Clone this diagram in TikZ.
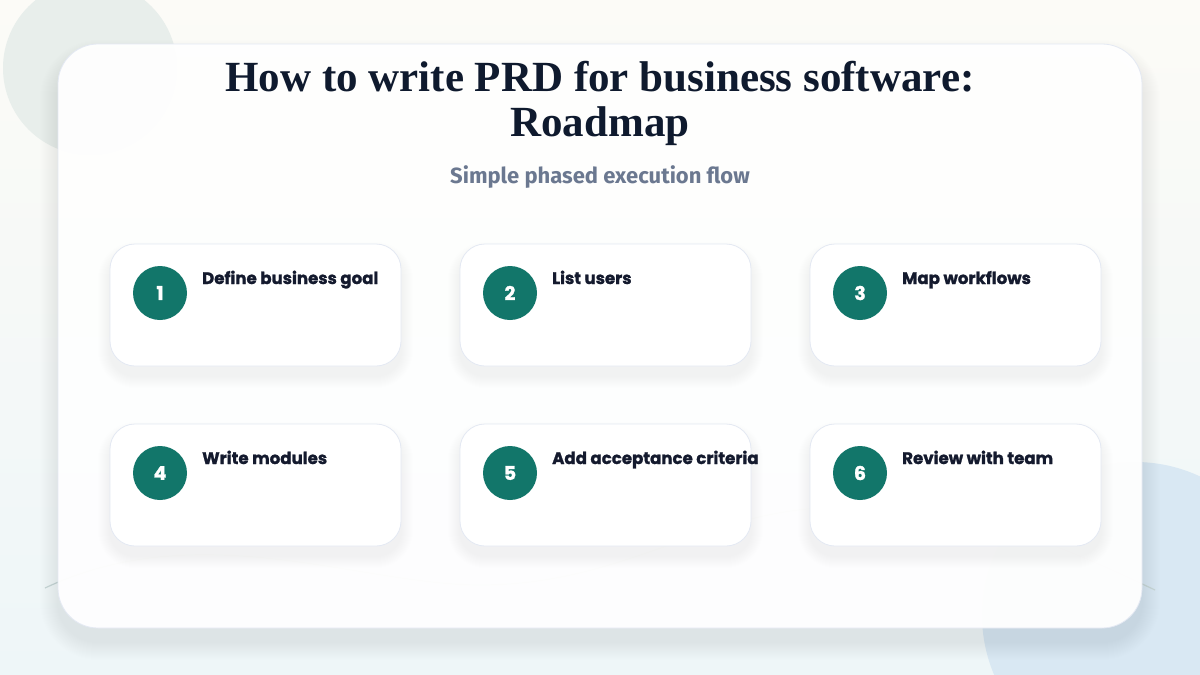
\documentclass[tikz,border=0pt]{standalone}
\usepackage{fontspec}
\setmainfont{Liberation Serif}
\newfontfamily\cardfont{Poppins}[BoldFeatures={FakeBold=1.3}]
\newfontfamily\subfont{Fira Sans}
\definecolor{bgtop}{HTML}{FCFBF7}
\definecolor{bgbot}{HTML}{EEF6F8}
\definecolor{circA}{HTML}{E8EEEB}
\definecolor{circB}{HTML}{D9E8F3}
\definecolor{titlecol}{HTML}{0F1A2E}
\definecolor{subcol}{HTML}{6B7890}
\definecolor{cardtext}{HTML}{141A2E}
\definecolor{teal}{HTML}{12766A}
\definecolor{cardline}{HTML}{E4E9F3}
\definecolor{curvecol}{HTML}{C9D8D8}
\definecolor{shadowcol}{HTML}{3A4A70}
\tikzset{
  panel/.style={fill=white, draw=cardline, line width=0.8pt, rounded corners=40pt, fill opacity=0.96},
  card/.style={fill=white, draw=cardline, line width=0.8pt, rounded corners=25pt},
  badge/.style={circle, fill=teal, minimum size=54pt, inner sep=0pt, text=white,
    font=\cardfont\bfseries\fontsize{19}{19}\selectfont},
  cardlabel/.style={anchor=base west, inner sep=0pt, text=cardtext,
    font=\cardfont\bfseries\fontsize{16.6}{17}\selectfont},
}
\begin{document}
\begin{tikzpicture}[x=1pt,y=-1pt]
\useasboundingbox (0,0) rectangle (1200,675);
% background
\shade[top color=bgtop, bottom color=bgbot] (0,0) rectangle (1200,675);
\fill[circA] (90,68) circle (87);
\fill[circB] (1135,615) circle (153);
% faint curve behind panel
\draw[curvecol, line width=1.2pt] (45,588) .. controls (200,515) and (360,585) .. (480,585)
  .. controls (620,585) and (700,515) .. (820,508)
  .. controls (960,500) and (1060,545) .. (1155,590);
% panel shadow
\foreach \k in {1,...,18}{
  \fill[shadowcol, opacity=0.005, rounded corners={40pt+\k pt}]
    (58-\k,44-\k+14) rectangle (1142+\k,628+\k+14);
}
% panel
\path[panel] (58,44) rectangle (1142,628);
% title
\node[name=title, align=center, text=titlecol, font=\bfseries\fontsize{43}{45}\selectfont]
  at (600,103) {How to write PRD for business software:\\Roadmap};
\node[name=subtitle, text=subcol, font=\subfont\bfseries\fontsize{22}{24}\selectfont]
  at (600,177) {Simple phased execution flow};
% cards
\foreach \i/\cx/\cy/\lab in {1/0/0/Define business goal, 2/350/0/List users, 3/700/0/Map workflows,
  4/0/180/Write modules, 5/350/180/Add acceptance criteria, 6/700/180/Review with team}{
  \foreach \k in {1,...,12}{
    \fill[shadowcol, opacity=0.0045, rounded corners={25pt+\k pt}]
      (110+\cx-\k,244+\cy-\k+10) rectangle (401+\cx+\k,366+\cy+\k+10);
  }
  \path[card] (110+\cx,244+\cy) rectangle (401+\cx,366+\cy);
  \node[badge, name=b\i] at (160+\cx,293+\cy) {\i};
  \node[cardlabel, name=l\i] at (202+\cx,284+\cy) {\lab};
}
\end{tikzpicture}
\end{document}
